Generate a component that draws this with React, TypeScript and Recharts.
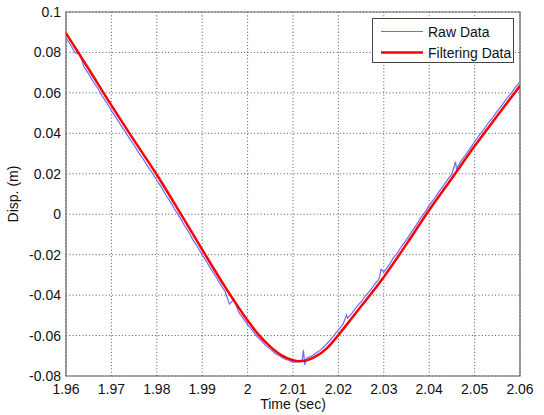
import {
  LineChart,
  Line,
  XAxis,
  YAxis,
  CartesianGrid,
  Legend,
  ReferenceArea,
} from 'recharts'

const timeTicks = [1.96, 1.97, 1.98, 1.99, 2.0, 2.01, 2.02, 2.03, 2.04, 2.05, 2.06]
const dispTicks = [-0.08, -0.06, -0.04, -0.02, 0, 0.02, 0.04, 0.06, 0.08, 0.1]
const seriesOrder = ['Raw Data', 'Filtering Data']

// filtered curve (red)
const filteredTime = [
  1.96, 1.965, 1.97, 1.975, 1.98, 1.985, 1.99, 1.995, 2.0, 2.0025, 2.005, 2.0075,
  2.01, 2.0113, 2.0125, 2.015, 2.0175, 2.02, 2.0225, 2.025, 2.0275, 2.03, 2.035,
  2.04, 2.045, 2.05, 2.055, 2.06,
]
const filteredDisp = [
  0.0895, 0.0718, 0.0538, 0.0365, 0.0195, 0.0012, -0.0175, -0.0358, -0.0525,
  -0.0598, -0.0655, -0.0698, -0.0722, -0.0727, -0.0725, -0.0703, -0.0662, -0.0597,
  -0.0527, -0.0455, -0.0385, -0.031, -0.0148, 0.0021, 0.0178, 0.0337, 0.0487,
  0.0635,
]

// raw measurement (blue), with the small spikes
const rawTime = [
  1.96, 1.961, 1.962, 1.963, 1.964, 1.965, 1.966, 1.967, 1.968, 1.969,
  1.97, 1.971, 1.972, 1.973, 1.974, 1.975, 1.976, 1.977, 1.978, 1.979,
  1.98, 1.981, 1.982, 1.983, 1.984, 1.985, 1.986, 1.987, 1.988, 1.989,
  1.99, 1.991, 1.992, 1.993, 1.994, 1.995, 1.996, 1.997, 1.998, 1.999,
  2.0, 2.001, 2.002, 2.003, 2.004, 2.005, 2.006, 2.007, 2.008, 2.009,
  2.01, 2.011, 2.012, 2.0123, 2.0126, 2.013, 2.014, 2.015, 2.016, 2.017,
  2.018, 2.019, 2.02, 2.021, 2.0218, 2.022, 2.023, 2.024, 2.025, 2.026,
  2.027, 2.028, 2.029, 2.0294, 2.03, 2.031, 2.032, 2.033, 2.034, 2.035,
  2.036, 2.037, 2.038, 2.039, 2.04, 2.041, 2.042, 2.043, 2.044, 2.045,
  2.0458, 2.046, 2.047, 2.048, 2.049, 2.05, 2.051, 2.052, 2.053, 2.054,
  2.055, 2.056, 2.057, 2.058, 2.059, 2.06,
]
const rawDisp = [
  0.087, 0.0838, 0.0797, 0.0795, 0.0727, 0.0694, 0.0656, 0.0623, 0.0584, 0.055,
  0.0512, 0.0479, 0.0443, 0.041, 0.0374, 0.0341, 0.0305, 0.0273, 0.0237, 0.0205,
  0.0168, 0.0134, 0.0095, 0.0061, 0.0022, -0.0013, -0.0052, -0.0087, -0.0128, -0.0162,
  -0.0201, -0.0236, -0.0274, -0.0308, -0.0347, -0.038, -0.0445, -0.042, -0.0483, -0.0514,
  -0.0546, -0.0573, -0.0603, -0.0625, -0.065, -0.0667, -0.0687, -0.07, -0.0715, -0.0722,
  -0.0731, -0.073, -0.0728, -0.0672, -0.0745, -0.0712, -0.0703, -0.0688, -0.0672, -0.0652,
  -0.0627, -0.06, -0.0572, -0.0545, -0.0498, -0.0514, -0.0489, -0.0458, -0.0434, -0.0402,
  -0.0378, -0.0346, -0.0318, -0.0272, -0.0286, -0.0257, -0.022, -0.0191, -0.0156, -0.0126,
  -0.0091, -0.0059, -0.0023, 0.0008, 0.0044, 0.0073, 0.0107, 0.0136, 0.017, 0.0199,
  0.026, 0.0225, 0.0263, 0.0294, 0.0326, 0.0357, 0.039, 0.0418, 0.0451, 0.0478,
  0.051, 0.0538, 0.0569, 0.0597, 0.0628, 0.0655,
]

const FONT = '"Liberation Sans", Arial, sans-serif'

const fmt = (v: number) => String(Number(v.toFixed(2)))

function LegendBox({ payload }: any) {
  const items = [...(payload || [])].sort(
    (a: any, b: any) => seriesOrder.indexOf(a.value) - seriesOrder.indexOf(b.value)
  )
  return (
    <div
      style={{
        width: 140,
        height: 41,
        border: '1px solid #444',
        background: '#fff',
        fontFamily: FONT,
        fontSize: 14,
        color: '#111',
        paddingTop: 2,
        boxSizing: 'content-box',
      }}
    >
      {items.map((p: any) => (
        <div
          key={p.value}
          style={{ display: 'flex', alignItems: 'center', height: 21 }}
        >
          <svg width={55} height={21} style={{ display: 'block' }}>
            <line
              x1={8}
              x2={50}
              y1={10.5}
              y2={10.5}
              stroke={p.color}
              strokeWidth={p.value === 'Raw Data' ? 1.2 : 2.5}
            />
          </svg>
          <span>{p.value}</span>
        </div>
      ))}
    </div>
  )
}

export default function App() {
  const filtered = filteredTime.map((t, i) => ({ t, disp: filteredDisp[i] }))
  const raw = rawTime.map((t, i) => ({ t, disp: rawDisp[i] }))

  return (
    <div style={{ position: 'absolute', left: 0, top: 0, background: '#fff' }}>
      <LineChart
        width={544}
        height={415}
        margin={{ top: 12, right: 24, bottom: 0, left: 0 }}
      >
        <CartesianGrid stroke="#555" strokeDasharray="1 2.3" />
        <XAxis
          type="number"
          dataKey="t"
          domain={[1.96, 2.06]}
          ticks={timeTicks}
          tickFormatter={fmt}
          allowDataOverflow
          axisLine={false}
          tickLine={false}
          tickSize={0}
          tickMargin={8}
          height={39}
          tick={{ fontSize: 14, fill: '#111', fontFamily: FONT }}
          label={{
            content: ({ viewBox }: any) => (
              <text
                x={viewBox.x + viewBox.width / 2}
                y={viewBox.y + 33}
                textAnchor="middle"
                fontSize={14}
                fontFamily={FONT}
                fill="#111"
              >
                Time (sec)
              </text>
            ),
          }}
        />
        <YAxis
          type="number"
          dataKey="disp"
          domain={[-0.08, 0.1]}
          ticks={dispTicks}
          tickFormatter={fmt}
          allowDataOverflow
          axisLine={false}
          tickLine={false}
          tickSize={0}
          tickMargin={5}
          width={66}
          tick={{ fontSize: 14, fill: '#111', fontFamily: FONT }}
          label={{
            content: ({ viewBox }: any) => {
              const cx = viewBox.x + 17.5
              const cy = viewBox.y + viewBox.height / 2
              return (
                <text
                  x={cx}
                  y={cy}
                  transform={`rotate(-90 ${cx} ${cy})`}
                  textAnchor="middle"
                  fontSize={14}
                  fontFamily={FONT}
                  fill="#111"
                >
                  Disp. (m)
                </text>
              )
            },
          }}
        />
        <Line
          data={raw}
          dataKey="disp"
          name="Raw Data"
          stroke="#6a6aff"
          strokeWidth={1.2}
          dot={false}
          type="linear"
          isAnimationActive={false}
        />
        <Line
          data={filtered}
          dataKey="disp"
          name="Filtering Data"
          stroke="#ff0000"
          strokeWidth={2.5}
          dot={false}
          type="monotone"
          isAnimationActive={false}
        />
        <ReferenceArea
          x1={1.96}
          x2={2.06}
          y1={-0.08}
          y2={0.1}
          fill="none"
          stroke="#666"
          strokeWidth={1.2}
          ifOverflow="visible"
        />
        <Legend
          layout="vertical"
          align="center"
          verticalAlign="middle"
          content={<LegendBox />}
          wrapperStyle={{ top: 18, left: 372, width: 142 }}
        />
      </LineChart>
    </div>
  )
}
